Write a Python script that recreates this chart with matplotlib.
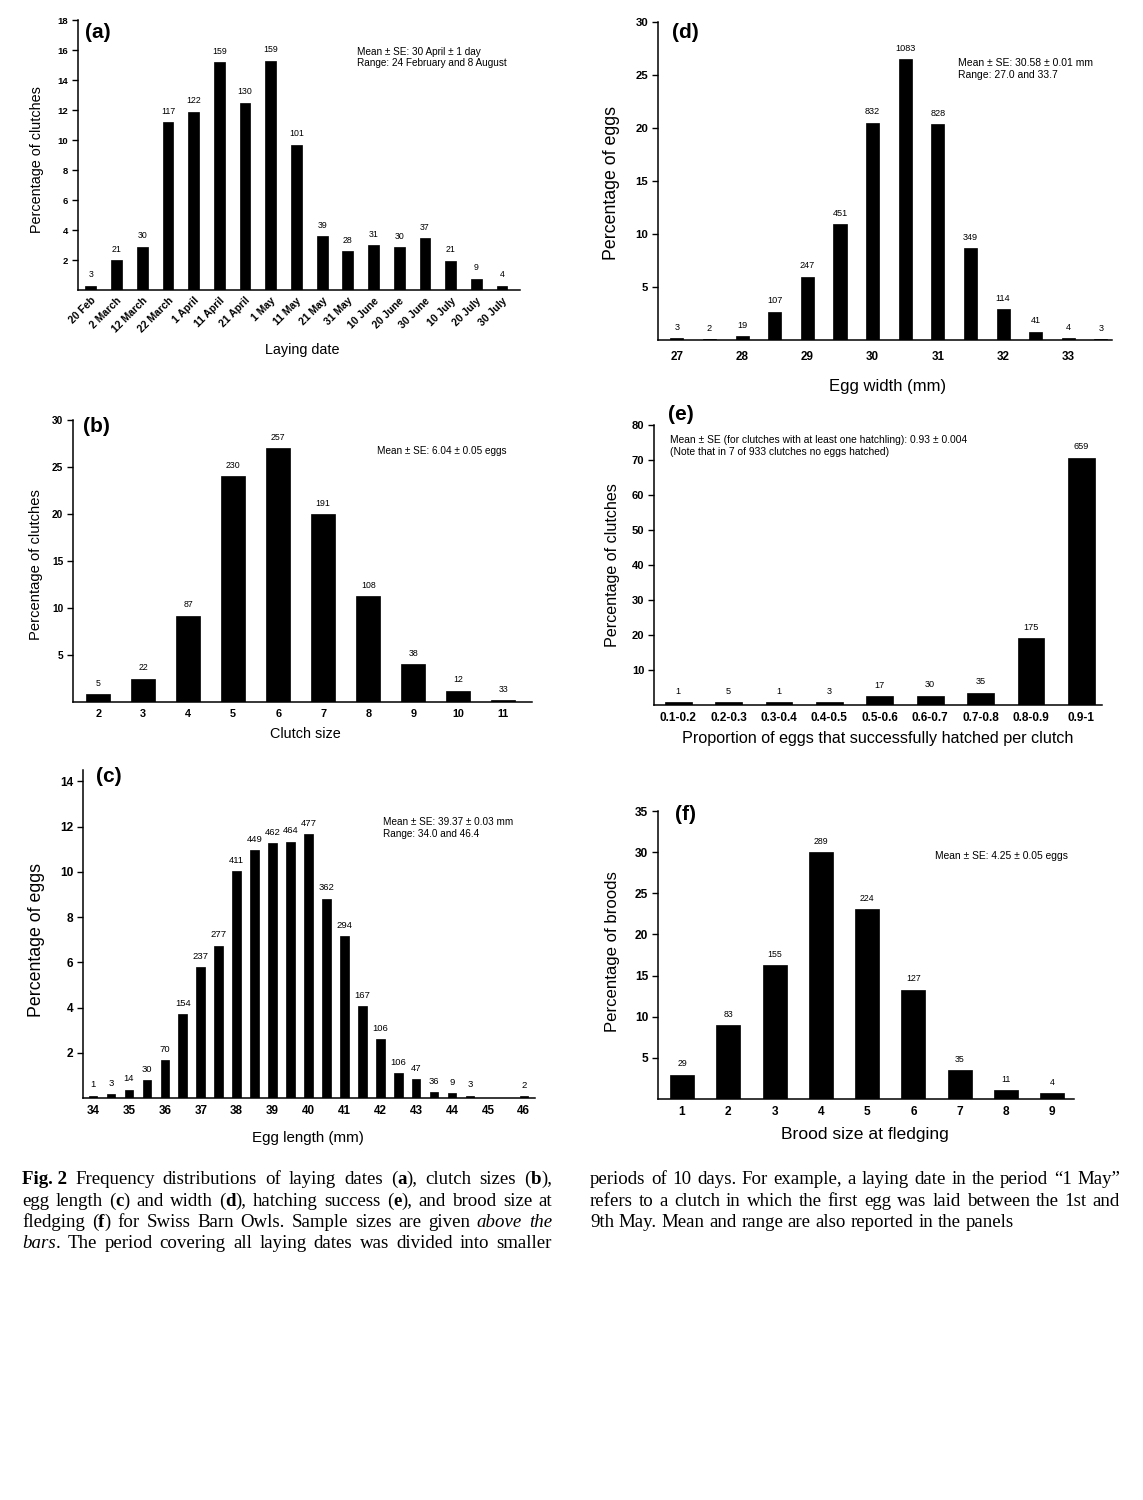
import matplotlib
matplotlib.use("Agg")
import matplotlib.pyplot as plt
from matplotlib.transforms import IdentityTransform

plt.rcParams['font.family'] = ['Liberation Sans', 'DejaVu Sans']

W, H = 1143, 1500

# ---------------- data ----------------
a_dates = ['20 Feb', '2 March', '12 March', '22 March', '1 April', '11 April', '21 April',
           '1 May', '11 May', '21 May', '31 May', '10 June', '20 June', '30 June',
           '10 July', '20 July', '30 July']
a_pct = [0.3, 2.0, 2.9, 11.2, 11.9, 15.2, 12.5, 15.3, 9.7, 3.6, 2.6, 3.0, 2.85, 3.45, 1.95, 0.75, 0.3]
a_n = [3, 21, 30, 117, 122, 159, 130, 159, 101, 39, 28, 31, 30, 37, 21, 9, 4]

b_size = [2, 3, 4, 5, 6, 7, 8, 9, 10, 11]
b_pct = [0.8, 2.5, 9.2, 24.0, 27.0, 20.0, 11.3, 4.0, 1.2, 0.2]
b_n = [5, 22, 87, 230, 257, 191, 108, 38, 12, 33]

c_len = [34, 34.5, 35, 35.5, 36, 36.5, 37, 37.5, 38, 38.5, 39, 39.5, 40, 40.5, 41, 41.5,
         42, 42.5, 43, 43.5, 44, 44.5, 46]
c_pct = [0.1, 0.18, 0.37, 0.79, 1.67, 3.70, 5.78, 6.74, 10.03, 10.96, 11.26, 11.33, 11.66,
         8.81, 7.16, 4.07, 2.59, 1.11, 0.84, 0.25, 0.22, 0.1, 0.07]
c_n = [1, 3, 14, 30, 70, 154, 237, 277, 411, 449, 462, 464, 477, 362, 294, 167, 106, 106,
       47, 36, 9, 3, 2]
c_ticks = [34, 35, 36, 37, 38, 39, 40, 41, 42, 43, 44, 45, 46]

d_width = [27, 27.5, 28, 28.5, 29, 29.5, 30, 30.5, 31, 31.5, 32, 32.5, 33, 33.5]
d_pct = [0.2, 0.1, 0.4, 2.67, 5.97, 10.9, 20.5, 26.5, 20.4, 8.7, 2.9, 0.8, 0.2, 0.1]
d_n = [3, 2, 19, 107, 247, 451, 832, 1083, 828, 349, 114, 41, 4, 3]
d_ticks = [27, 28, 29, 30, 31, 32, 33]

e_cat = ['0.1-0.2', '0.2-0.3', '0.3-0.4', '0.4-0.5', '0.5-0.6', '0.6-0.7', '0.7-0.8',
         '0.8-0.9', '0.9-1']
e_pct = [0.9, 0.9, 0.9, 0.9, 2.6, 2.7, 3.5, 19.2, 70.7]
e_n = [1, 5, 1, 3, 17, 30, 35, 175, 659]

f_size = [1, 2, 3, 4, 5, 6, 7, 8, 9]
f_pct = [2.96, 8.95, 16.3, 30.0, 23.1, 13.3, 3.5, 1.05, 0.7]
f_n = [29, 83, 155, 289, 224, 127, 35, 11, 4]

# ---------------- figure ----------------
fig = plt.figure(figsize=(W / 100, H / 100), dpi=100)


def rect(l, r, t, b):
    return [l / W, 1 - b / H, (r - l) / W, (b - t) / H]


def fx(x):
    return x / W


def fy(y):
    return 1 - y / H


def style(ax, yfs, xfs, xpad=5):
    for s in ['top', 'right']:
        ax.spines[s].set_visible(False)
    for s in ['left', 'bottom']:
        ax.spines[s].set_linewidth(1.1)
    ax.tick_params(axis='y', direction='out', length=4, width=1.0, labelsize=yfs, pad=3)
    ax.tick_params(axis='x', length=0, labelsize=xfs, pad=xpad)
    for lab in ax.get_yticklabels() + ax.get_xticklabels():
        lab.set_fontweight('bold')


def bars(ax, x, y, n, width, fs=6.3):
    bc = ax.bar(x, y, width=width, color='black', edgecolor='black', linewidth=0.5)
    for rct, lab in zip(bc, n):
        ax.annotate(str(lab), (rct.get_x() + rct.get_width() / 2, rct.get_height()),
                    xytext=(0, 4.5), textcoords='offset points', ha='center', va='bottom',
                    fontsize=fs)


def labels(xl, xlpos, xfs, yl, ylpos, yfs, pl, plpos):
    fig.text(fx(xlpos[0]), fy(xlpos[1]), xl, ha='center', va='center', fontsize=xfs)
    fig.text(fx(ylpos[0]), fy(ylpos[1]), yl, ha='center', va='center', fontsize=yfs,
             rotation=90)
    fig.text(fx(plpos[0]), fy(plpos[1]), pl, ha='left', va='center', fontsize=15,
             fontweight='bold')


def stat(lines, x, ys, fs=7.2):
    for s, y in zip(lines, ys):
        fig.text(fx(x), fy(y), s, ha='left', va='center', fontsize=fs)


# (a)
ax = fig.add_axes(rect(78, 520, 20, 290))
xa = list(range(len(a_dates)))
bars(ax, xa, a_pct, a_n, 0.42)
ax.set_xlim(-0.5, 16.7)
ax.set_ylim(0, 18)
ax.set_yticks([2, 4, 6, 8, 10, 12, 14, 16, 18])
ax.set_xticks(xa)
ax.set_xticklabels(a_dates, rotation=45, ha='right', rotation_mode='anchor')
style(ax, 6.8, 7.5, 4)
labels('Laying date', (302, 350), 10.4, 'Percentage of clutches', (37, 160), 10.4,
       '(a)', (85, 33))
stat(['Mean ± SE: 30 April ± 1 day', 'Range: 24 February and 8 August'], 357, [52, 63])

# (b)
ax = fig.add_axes(rect(73, 532, 420, 702))
bars(ax, b_size, b_pct, b_n, 0.53)
ax.set_xlim(1.44, 11.64)
ax.set_ylim(0, 30)
ax.set_yticks([5, 10, 15, 20, 25, 30])
ax.set_xticks(b_size)
style(ax, 7.3, 7.8)
labels('Clutch size', (305, 734), 10.4, 'Percentage of clutches', (36, 565), 10.6,
       '(b)', (83, 427))
stat(['Mean ± SE: 6.04 ± 0.05 eggs'], 377, [451])

# (c)
ax = fig.add_axes(rect(83, 535, 770, 1098))
bars(ax, c_len, c_pct, c_n, 0.24, 6.8)
ax.set_xlim(33.72, 46.31)
ax.set_ylim(0, 14.5)
ax.set_yticks([2, 4, 6, 8, 10, 12, 14])
ax.set_xticks(c_ticks)
style(ax, 8.6, 8.4)
labels('Egg length (mm)', (308, 1138), 10.9, 'Percentage of eggs', (37, 940), 12.8,
       '(c)', (96, 777))
stat(['Mean ± SE: 39.37 ± 0.03 mm', 'Range: 34.0 and 46.4'], 383, [822, 834])

# (d)
ax = fig.add_axes(rect(658, 1112, 22, 340))
bars(ax, d_width, d_pct, d_n, 0.2, 6.6)
ax.set_xlim(26.71, 33.67)
ax.set_ylim(0, 30)
ax.set_yticks([5, 10, 15, 20, 25, 30])
ax.set_xticks(d_ticks)
style(ax, 8.2, 8.4, 8)
labels('Egg width (mm)', (888, 387), 12.0, 'Percentage of eggs', (611, 183), 12.8,
       '(d)', (672, 33))
stat(['Mean ± SE: 30.58 ± 0.01 mm', 'Range: 27.0 and 33.7'], 958, [63, 75], 7.5)

# (e)
ax = fig.add_axes(rect(654, 1102, 425, 705))
xe = list(range(len(e_cat)))
bars(ax, xe, e_pct, e_n, 0.53, 6.6)
ax.set_xlim(-0.48, 8.41)
ax.set_ylim(0, 80)
ax.set_yticks([10, 20, 30, 40, 50, 60, 70, 80])
ax.set_xticks(xe)
ax.set_xticklabels(e_cat)
style(ax, 8.0, 8.5)
labels('Proportion of eggs that successfully hatched per clutch', (878, 738), 11.6,
       'Percentage of clutches', (612, 565), 11.6, '(e)', (668, 414))
stat(['Mean ± SE (for clutches with at least one hatchling): 0.93 ± 0.004',
      '(Note that in 7 of 933 clutches no eggs hatched)'], 670, [440, 452], 7.4)

# (f)
ax = fig.add_axes(rect(658, 1074, 811, 1099))
bars(ax, f_size, f_pct, f_n, 0.52, 6.3)
ax.set_xlim(0.48, 9.47)
ax.set_ylim(0, 35)
ax.set_yticks([5, 10, 15, 20, 25, 30, 35])
ax.set_xticks(f_size)
style(ax, 8.6, 8.6)
labels('Brood size at fledging', (865, 1134), 12.6, 'Percentage of broods', (613, 952),
       12.1, '(f)', (675, 814))
stat(['Mean ± SE: 4.25 ± 0.05 eggs'], 935, [856], 7.4)

# ---------------- caption (justified, mixed styles) ----------------
N, B, I = {}, {'fontweight': 'bold'}, {'fontstyle': 'italic'}


def w(*segs):
    return list(segs)


left_lines = [
    [w(('Fig. 2', B)), w(('Frequency', N)), w(('distributions', N)), w(('of', N)),
     w(('laying', N)), w(('dates', N)), w(('(', N), ('a', B), ('),', N)), w(('clutch', N)),
     w(('sizes', N)), w(('(', N), ('b', B), ('),', N))],
    [w(('egg', N)), w(('length', N)), w(('(', N), ('c', B), (')', N)), w(('and', N)),
     w(('width', N)), w(('(', N), ('d', B), ('),', N)), w(('hatching', N)),
     w(('success', N)), w(('(', N), ('e', B), ('),', N)), w(('and', N)), w(('brood', N)),
     w(('size', N)), w(('at', N))],
    [w(('fledging', N)), w(('(', N), ('f', B), (')', N)), w(('for', N)), w(('Swiss', N)),
     w(('Barn', N)), w(('Owls.', N)), w(('Sample', N)), w(('sizes', N)), w(('are', N)),
     w(('given', N)), w(('above', I)), w(('the', I))],
    [w(('bars', I), ('.', N)), w(('The', N)), w(('period', N)), w(('covering', N)),
     w(('all', N)), w(('laying', N)), w(('dates', N)), w(('was', N)), w(('divided', N)),
     w(('into', N)), w(('smaller', N))],
]
right_lines = [
    [w(('periods', N)), w(('of', N)), w(('10', N)), w(('days.', N)), w(('For', N)),
     w(('example,', N)), w(('a', N)), w(('laying', N)), w(('date', N)), w(('in', N)),
     w(('the', N)), w(('period', N)), w(('\u201c1', N)), w(('May\u201d', N))],
    [w(('refers', N)), w(('to', N)), w(('a', N)), w(('clutch', N)), w(('in', N)),
     w(('which', N)), w(('the', N)), w(('first', N)), w(('egg', N)), w(('was', N)),
     w(('laid', N)), w(('between', N)), w(('the', N)), w(('1st', N)), w(('and', N))],
    [w(('9th', N)), w(('May.', N)), w(('Mean', N)), w(('and', N)), w(('range', N)),
     w(('are', N)), w(('also', N)), w(('reported', N)), w(('in', N)), w(('the', N)),
     w(('panels', N))],
]

renderer = fig.canvas.get_renderer()
CAP_FS = 13.6
CAP_FAM = ['Liberation Serif', 'DejaVu Serif']


def place_line(words, x0, x1, ybase, justify):
    objs = []
    widths = []
    for word in words:
        segs = []
        ww = 0
        for txt, kw in word:
            t = fig.text(0, 0, txt, transform=IdentityTransform(), fontsize=CAP_FS,
                         family=CAP_FAM, va='baseline', ha='left', **kw)
            wd = t.get_window_extent(renderer).width
            segs.append((t, wd))
            ww += wd
        objs.append(segs)
        widths.append(ww)
    total = sum(widths)
    if justify and len(words) > 1:
        gap = (x1 - x0 - total) / (len(words) - 1)
    else:
        gap = CAP_FS * 1.389 * 0.25
    x = x0
    for segs, ww in zip(objs, widths):
        xx = x
        for t, wd in segs:
            t.set_position((xx, H - ybase))
            xx += wd
        x += ww + gap


bases = [1184, 1205.5, 1227, 1248.5]
for i, ln in enumerate(left_lines):
    place_line(ln, 22, 552, bases[i], True)
for i, ln in enumerate(right_lines):
    place_line(ln, 590, 1120, bases[i], i < 2)

fig.savefig('out.png', dpi=100)
